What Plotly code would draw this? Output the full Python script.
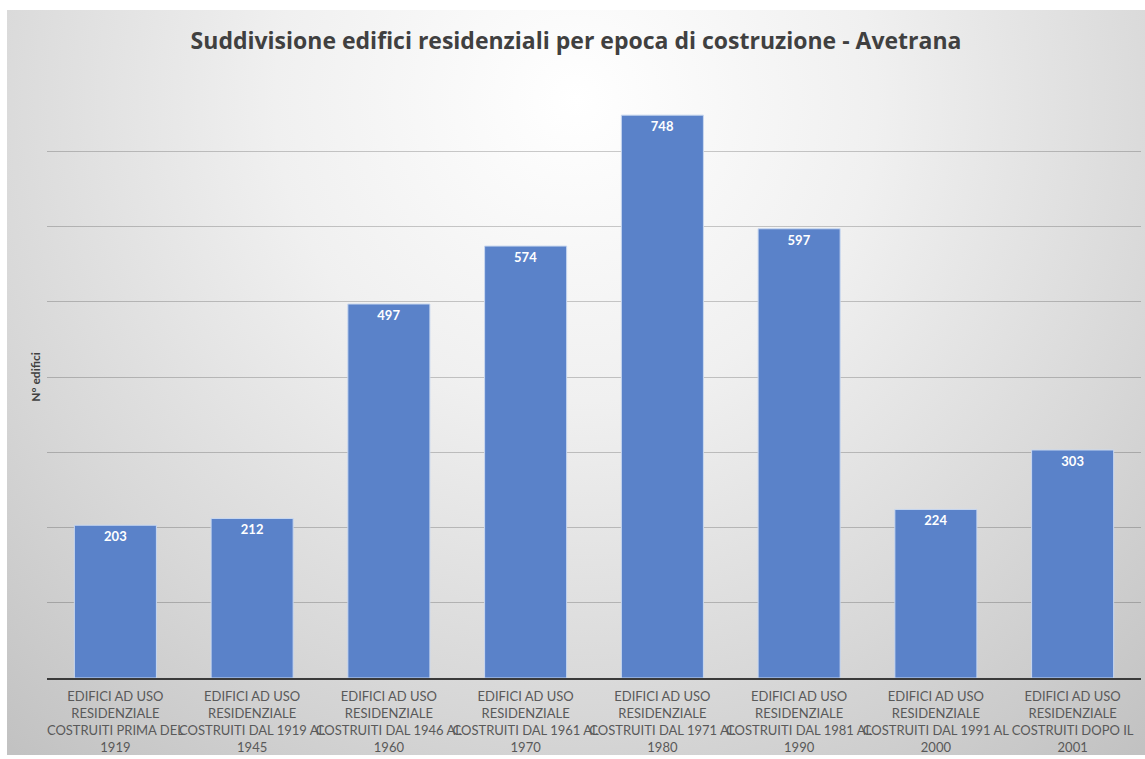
import base64
import plotly.graph_objects as go

# Building counts by construction period
categorie = [
    "EDIFICI AD USO<br>RESIDENZIALE<br>COSTRUITI PRIMA DEL<br>1919",
    "EDIFICI AD USO<br>RESIDENZIALE<br>COSTRUITI DAL 1919 AL<br>1945",
    "EDIFICI AD USO<br>RESIDENZIALE<br>COSTRUITI DAL 1946 AL<br>1960",
    "EDIFICI AD USO<br>RESIDENZIALE<br>COSTRUITI DAL 1961 AL<br>1970",
    "EDIFICI AD USO<br>RESIDENZIALE<br>COSTRUITI DAL 1971 AL<br>1980",
    "EDIFICI AD USO<br>RESIDENZIALE<br>COSTRUITI DAL 1981 AL<br>1990",
    "EDIFICI AD USO<br>RESIDENZIALE<br>COSTRUITI DAL 1991 AL<br>2000",
    "EDIFICI AD USO<br>RESIDENZIALE<br>COSTRUITI DOPO IL<br>2001",
]
edifici = [203, 212, 497, 574, 748, 597, 224, 303]

W, H = 1145, 759
ML, MR, MT, MB = 47, 4, 76, 81
PW, PH = W - ML - MR, H - MT - MB

# Radial gradient backdrop for the chart area
BX0, BY0, BX1, BY1 = 7, 10, 1145, 755
bw, bh = BX1 - BX0, BY1 - BY0
svg = f"""<svg xmlns='http://www.w3.org/2000/svg' width='{bw}' height='{bh}'>
<defs><radialGradient id='g' gradientUnits='userSpaceOnUse' cx='{bw/2}' cy='90' r='860'>
<stop offset='0' stop-color='#ffffff'/><stop offset='0.35' stop-color='#f0f0f0'/>
<stop offset='0.7' stop-color='#d8d8d8'/><stop offset='1' stop-color='#c2c2c2'/>
</radialGradient></defs>
<rect width='{bw}' height='{bh}' fill='url(#g)'/></svg>"""
src = "data:image/svg+xml;base64," + base64.b64encode(svg.encode()).decode()

fig = go.Figure(
    go.Bar(
        x=categorie,
        y=edifici,
        marker=dict(color="#5a82c9", line=dict(color="#c9d8f0", width=1)),
        text=[str(v) for v in edifici],
        textposition="inside",
        insidetextanchor="end",
        textangle=0,
        textfont=dict(color="white", size=13, family="Lato", weight="bold"),
        width=0.6,
    )
)

fig.update_layout(
    width=W,
    height=H,
    margin=dict(l=ML, r=MR, t=MT, b=MB),
    paper_bgcolor="white",
    plot_bgcolor="rgba(0,0,0,0)",
    showlegend=False,
    title=dict(
        text="<b>Suddivisione edifici residenziali per epoca di costruzione - Avetrana</b>",
        x=(BX0 + BX1) / 2 / W,
        xref="container",
        xanchor="center",
        y=1 - 41 / H,
        yanchor="middle",
        font=dict(family="Open Sans", size=23, color="#404040"),
    ),
    images=[
        dict(
            source=src,
            xref="paper",
            yref="paper",
            x=(BX0 - ML) / PW,
            y=(H - MB - BY0) / PH,
            sizex=bw / PW,
            sizey=bh / PH,
            xanchor="left",
            yanchor="top",
            sizing="stretch",
            layer="below",
        )
    ],
    xaxis=dict(
        showline=True,
        linecolor="#3a3a3a",
        linewidth=1.5,
        ticks="outside",
        ticklen=6,
        tickcolor="rgba(0,0,0,0)",
        tickfont=dict(family="Lato", size=13, color="#595959"),
        tickangle=0,
        showgrid=False,
    ),
    yaxis=dict(
        range=[0, 800],
        dtick=100,
        showticklabels=False,
        showgrid=True,
        gridcolor="rgba(0,0,0,0.2)",
        gridwidth=1,
        zeroline=False,
        title=dict(
            text="<b>N° edifici</b>",
            font=dict(family="Lato", size=12, color="#404040"),
            standoff=2,
        ),
    ),
)

fig.write_html("out.html")
